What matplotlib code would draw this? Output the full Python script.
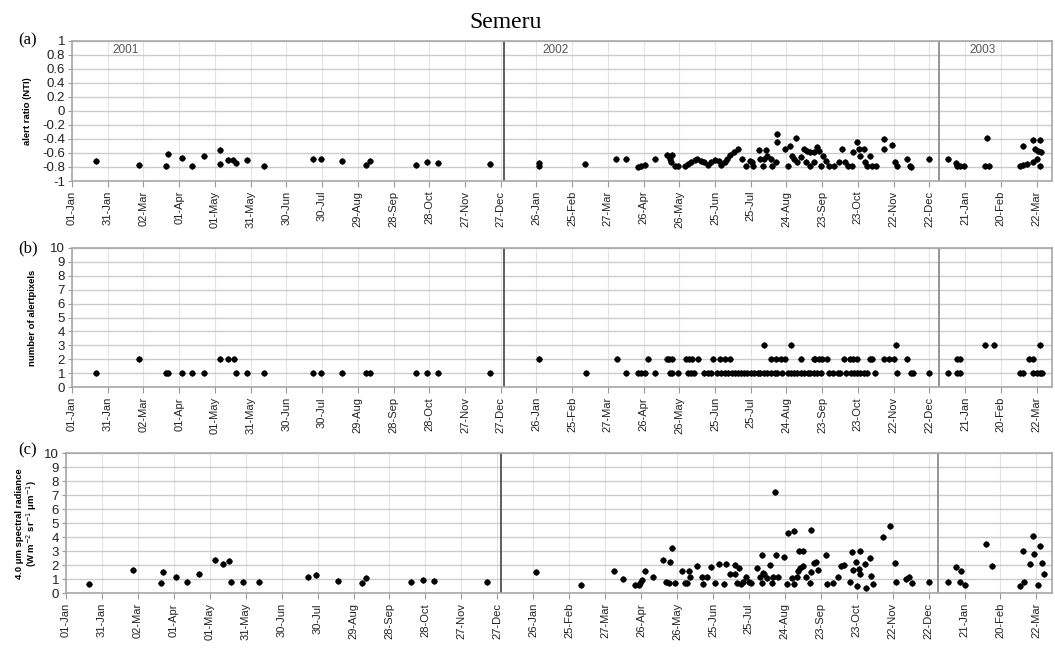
import numpy as np
import pandas as pd
import matplotlib
matplotlib.use('Agg')
import matplotlib.pyplot as plt
import matplotlib.dates as mdates

plt.rcParams['font.family'] = ['Liberation Sans', 'DejaVu Sans']
plt.rcParams['axes.unicode_minus'] = False

# days counted from 01-Jan-2001
nti_day = [20, 56, 79, 81, 92, 101, 111, 124, 124, 131, 135, 138, 147, 161, 202, 209, 227,
           247, 250, 289, 298, 307, 351,
           392, 392, 431, 457, 465, 475, 478, 481, 490, 500, 504, 502, 503, 506, 509,
           515, 517, 520, 523, 525, 528, 531, 534, 537, 540, 543, 545, 548, 550, 553, 556, 559,
           563, 566, 569, 571, 572, 577, 583, 578, 581, 580, 584, 587, 588, 591, 592, 592,
           599, 603, 608, 605, 606, 609, 601, 612, 615, 617, 620, 623, 626, 627, 616, 620, 623,
           629, 631, 633, 636, 640, 644, 647, 649, 652, 655, 656, 659, 661, 662, 665, 666, 668,
           670, 672, 675, 682, 682, 689, 691, 693, 701, 704, 705, 720,
           736, 742, 743, 746, 749, 767, 770, 768, 796, 799, 802, 799, 807, 813, 809, 811, 814,
           810, 807, 813]
nti_val = [-0.72, -0.77, -0.78, -0.62, -0.67, -0.78, -0.65, -0.56, -0.76, -0.70, -0.70, -0.74,
           -0.70, -0.79, -0.68, -0.69, -0.72,
           -0.77, -0.72, -0.77, -0.73, -0.74, -0.76,
           -0.75, -0.78, -0.76, -0.69, -0.69, -0.80, -0.79, -0.77, -0.69, -0.63, -0.63, -0.69,
           -0.73, -0.78, -0.78,
           -0.79, -0.76, -0.73, -0.70, -0.68, -0.71, -0.73, -0.77, -0.73, -0.70, -0.72, -0.77,
           -0.73, -0.68, -0.63, -0.59, -0.55,
           -0.68, -0.78, -0.71, -0.73, -0.78, -0.56, -0.56, -0.68, -0.69, -0.78, -0.64, -0.69,
           -0.79, -0.73, -0.33, -0.44,
           -0.54, -0.50, -0.38, -0.64, -0.69, -0.73, -0.78, -0.66, -0.54, -0.57, -0.59, -0.59,
           -0.52, -0.57, -0.73, -0.78, -0.73,
           -0.78, -0.64, -0.71, -0.78, -0.78, -0.73, -0.54, -0.73, -0.78, -0.78, -0.59, -0.45,
           -0.54, -0.64, -0.54, -0.73, -0.78,
           -0.64, -0.78, -0.78, -0.40, -0.54, -0.49, -0.73, -0.79, -0.68, -0.78, -0.80, -0.68,
           -0.68, -0.74, -0.79, -0.79, -0.78, -0.78, -0.78, -0.38, -0.78, -0.77, -0.76, -0.50,
           -0.42, -0.42, -0.54, -0.57, -0.58,
           -0.69, -0.73, -0.79]

pix_day = [20, 56, 79, 81, 92, 101, 111, 124, 131, 136, 138, 147, 161, 202, 209, 227, 247, 250,
           289, 298, 307, 351,
           392, 432, 458, 465, 475, 478, 481, 484, 490, 500, 501, 504, 502, 504, 509, 516, 518,
           521, 517, 520, 522, 526,
           538, 544, 548, 553, 587, 591, 595, 599, 612, 623, 624, 627, 630, 634, 648, 653, 656,
           659, 670, 672, 682, 686, 690, 701, 743, 746, 804, 807,
           581, 604, 692, 767, 774, 813,
           531, 534, 537, 542, 545, 548, 551, 554, 557, 559, 562, 564, 567, 570, 573, 576, 578,
           581, 584, 587, 590, 592, 596, 601, 604, 606, 609, 612, 615, 618, 620, 623, 626, 629,
           636, 639, 643, 645, 650, 654, 657, 659, 662, 665, 668, 674, 693, 705, 706, 720,
           736, 743, 746, 796, 799, 807, 810, 813, 815]
pix_val = [1, 2, 1, 1, 1, 1, 1, 2, 2, 2, 1, 1, 1, 1, 1, 1, 1, 1,
           1, 1, 1, 1,
           2, 1, 2, 1, 1, 1, 1, 2, 1, 2, 2, 2, 1, 1, 1, 2, 2,
           2, 1, 1, 1, 2,
           2, 2, 2, 2, 2, 2, 2, 2, 2, 2, 2, 2, 2, 2, 2, 2, 2,
           2, 2, 2, 2, 2, 2, 2, 2, 2, 2, 2,
           3, 3, 3, 3, 3, 3,
           1, 1, 1, 1, 1, 1, 1, 1, 1, 1, 1, 1, 1, 1, 1, 1, 1,
           1, 1, 1, 1, 1, 1, 1, 1, 1, 1, 1, 1, 1, 1, 1, 1, 1,
           1, 1, 1, 1, 1, 1, 1, 1, 1, 1, 1, 1, 1, 1, 1, 1,
           1, 1, 1, 1, 1, 1, 1, 1, 1]

rad_day = [19, 56, 79, 81, 92, 101, 111, 124, 131, 136, 138, 148, 161, 202, 209, 227, 247, 250,
           288, 298, 307, 351,
           392, 430, 457, 465, 475, 478, 479, 481, 483, 490, 498, 504, 506, 501, 503, 508, 514,
           520, 521, 517, 518, 527, 531, 535, 532, 538, 545, 542, 549, 551, 554, 558, 558, 562,
           560, 563, 565, 568, 570, 572, 577, 581, 582, 583, 579, 581, 585, 588, 589, 590, 592,
           593, 594, 599, 603, 608, 602, 606, 608, 610, 611, 612, 615, 613, 615, 618, 621, 622,
           622, 624, 626, 628, 634, 635, 640, 644, 647, 649, 654, 656, 659, 657, 660, 662, 663,
           663, 667, 668, 671, 672, 674, 682, 688, 692, 693, 701, 704, 706, 720,
           736, 743, 747, 746, 750, 768, 773, 796, 800, 799, 807, 805, 808, 811, 813, 815, 816]
rad_val = [0.67, 1.67, 0.74, 1.50, 1.14, 0.79, 1.36, 2.38, 2.12, 2.31, 0.79, 0.79, 0.79, 1.14,
           1.29, 0.90, 0.71, 1.07, 0.83, 0.93, 0.88, 0.83,
           1.55, 0.62, 1.62, 1.02, 0.60, 0.60, 0.71, 0.95, 1.62, 1.14, 2.38, 2.26, 3.21, 0.83,
           0.76, 0.76, 1.62, 1.62, 1.14, 0.71, 0.76, 1.98, 1.14, 1.14, 0.67, 1.90, 2.10, 0.76,
           0.67, 2.10, 1.38, 1.38, 2.02, 1.79, 0.76, 0.67, 0.83, 1.14, 0.83, 0.76, 1.79, 2.71,
           1.48, 1.38, 1.14, 0.76, 1.07, 2.02, 0.76, 1.14, 7.26, 2.71, 1.14, 2.57, 4.29, 4.48,
           0.67, 1.07, 0.67, 1.14, 1.62, 3.05, 3.05, 1.79, 1.95, 1.14, 0.76, 4.52, 1.55, 2.14,
           2.26, 1.67, 2.71, 0.67, 0.76, 1.14, 1.95, 2.02, 0.83, 2.95, 2.26, 1.67, 0.52, 1.71,
           3.05, 1.38, 2.10, 0.36, 2.50, 1.24, 0.67, 4.00, 4.81, 2.19, 0.81, 1.00, 1.14, 0.71,
           0.83, 0.83, 1.86, 1.62, 0.83, 0.60, 3.52, 1.95, 0.52, 0.83, 3.05, 4.10, 2.10, 2.81,
           0.60, 3.38, 2.19, 1.38]

year_labels = ['2001', '2002', '2003']
year_label_day = [45, 406, 765]
year_break_day = [363, 728]
year_break_color = ['#505050', '#8c8c8c']

start = np.datetime64('2001-01-01')


def to_dates(days):
    return start + np.round(np.asarray(days)).astype('timedelta64[D]')


W, H = 1055, 648
fig = plt.figure(figsize=(W / 100, H / 100), dpi=100)

# pixel boxes: left, right, top, bottom
boxes = [(72, 1052, 40.7, 181), (72, 1052, 247.7, 387.3), (66, 1052, 453.3, 593.3)]
axes = []
for l, r, t, b in boxes:
    axes.append(fig.add_axes([l / W, 1 - b / H, (r - l) / W, (b - t) / H]))

ticks = pd.date_range('2001-01-01', periods=28, freq='30D')
xmin, xmax = to_dates([0, 823])

panels = [
    (nti_day, nti_val, (-1, 1), np.round(np.arange(-1, 1.01, 0.2), 1), 'alert ratio (NTI)', -0.041),
    (pix_day, pix_val, (0, 10), np.arange(0, 11, 1), 'number of alertpixels', -0.036),
    (rad_day, rad_val, (0, 10), np.arange(0, 11, 1),
     '4.0 \u03bcm spectral radiance\n(W m$^{-2}$ sr$^{-1}$ \u03bcm$^{-1}$)', -0.027),
]

for ax, (d, v, ylim, yt, ylab, labx) in zip(axes, panels):
    dates = to_dates(d)
    ax.plot(dates, v, 'o', ms=3.4, color='black', zorder=3)
    ax.plot(dates, v, '+', ms=5.0, mew=0.8, color='black', zorder=3)
    for yb, yc in zip(year_break_day, year_break_color):
        ax.axvline(to_dates([yb])[0], color=yc, lw=1.3, zorder=2)
    ax.set_xlim(xmin, xmax)
    ax.set_ylim(*ylim)
    ax.set_xticks(ticks)
    ax.xaxis.set_major_formatter(mdates.DateFormatter('%d-%b'))
    ax.set_yticks(yt)
    ax.set_yticklabels([f'{t + 0.0:g}' if abs(t) > 1e-9 else '0' for t in yt])
    ax.grid(axis='y', color='#cccccc', lw=1.0)
    ax.grid(axis='x', color='#e3e3e3', lw=0.8)
    ax.set_axisbelow(True)
    for s in ax.spines.values():
        s.set_color('#a8a8a8')
        s.set_linewidth(1.2)
    ax.tick_params(axis='x', labelrotation=90, labelsize=8, length=4, color='#999999',
                   labelcolor='#222222', pad=3)
    ax.tick_params(axis='y', labelsize=9.5, length=3, color='#999999', labelcolor='#222222',
                   pad=2)
    ax.set_ylabel(ylab, fontsize=6.8, fontweight='bold', linespacing=1.1)
    ax.yaxis.set_label_coords(labx, 0.5)

for lab, dd in zip(year_labels, year_label_day):
    axes[0].text(to_dates([dd])[0], 0.87, lab, fontsize=8.5, color='#555555',
                 ha='center', va='center')

fig.text(506 / W, 1 - 22 / H, 'Semeru', family='Liberation Serif', fontsize=17,
         ha='center', va='center')
for lab, y in zip(['(a)', '(b)', '(c)'], [40, 248, 450]):
    fig.text(28 / W, 1 - y / H, lab, family='Liberation Serif', fontsize=12,
             ha='center', va='center')

fig.savefig('out.png', dpi=100, facecolor='white')
